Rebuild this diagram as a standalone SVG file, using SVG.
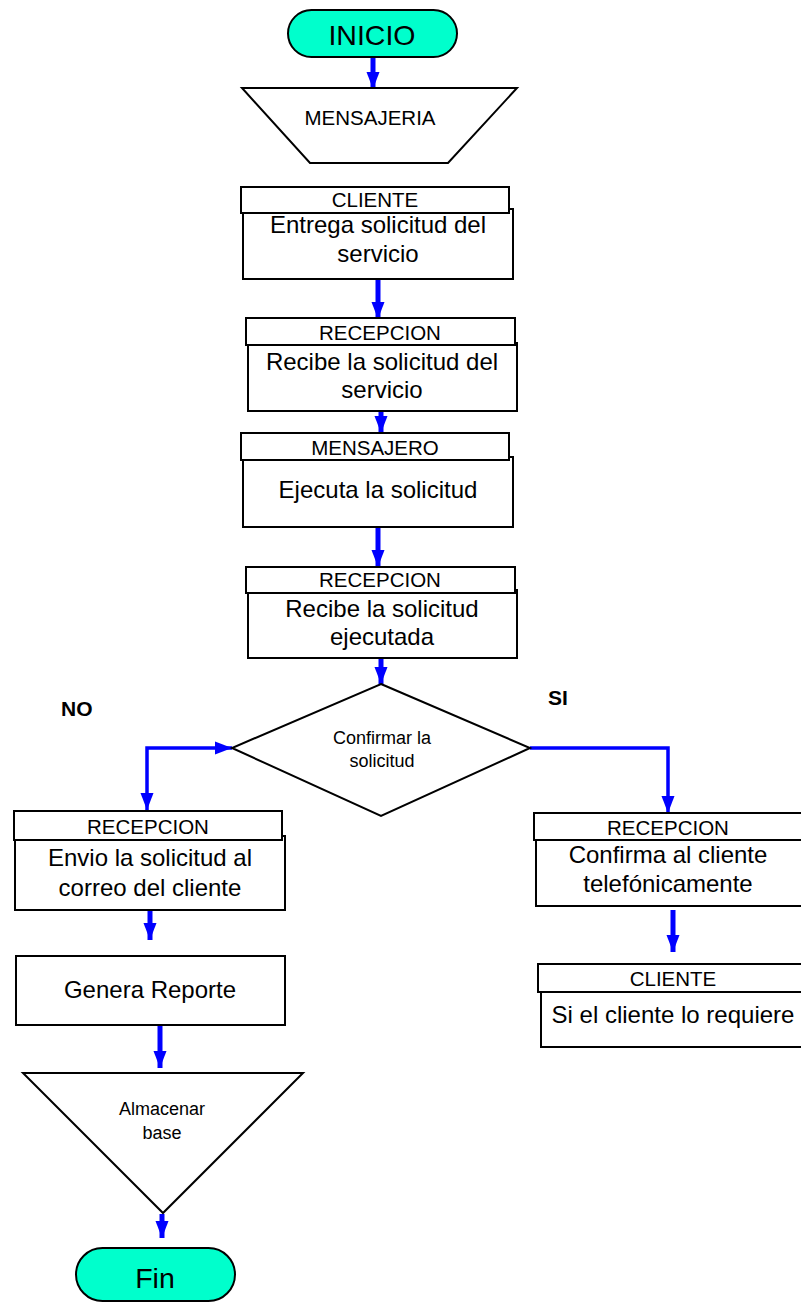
<svg xmlns="http://www.w3.org/2000/svg" width="801" height="1303" viewBox="0 0 801 1303">
<style>
.b{fill:#fff;stroke:#000;stroke-width:2}
.t{fill:#00ffcc;stroke:#000;stroke-width:2}
text{font-family:"Liberation Sans",Arial,sans-serif;fill:#000;text-anchor:middle}
.h{font-size:20.5px}
.m{font-size:24px}
.s{font-size:18px}
.lb{font-size:21px;font-weight:bold;text-anchor:start}
.c{fill:none;stroke:#0000ff;stroke-width:5}
.c2{fill:none;stroke:#0000ff;stroke-width:3.5}
</style>
<defs>
<marker id="ah" markerUnits="userSpaceOnUse" markerWidth="18" markerHeight="14" refX="17" refY="7" orient="auto" viewBox="0 0 18 14">
<path d="M0,0.5 L17,7 L0,13.5 z" fill="#0000ff"/>
</marker>
<marker id="as" markerUnits="userSpaceOnUse" markerWidth="18" markerHeight="14" refX="17" refY="7" orient="auto-start-reverse" viewBox="0 0 18 14">
<path d="M0,0.5 L17,7 L0,13.5 z" fill="#0000ff"/>
</marker>
</defs>
<g id="connectors">
<line class="c" x1="373" y1="57" x2="373" y2="89" marker-end="url(#ah)"/>
<line class="c" x1="378" y1="280" x2="378" y2="319" marker-end="url(#ah)"/>
<line class="c" x1="381" y1="412" x2="381" y2="433" marker-end="url(#ah)"/>
<line class="c" x1="378" y1="528" x2="378" y2="567" marker-end="url(#ah)"/>
<line class="c" x1="381" y1="659" x2="381" y2="684" marker-end="url(#ah)"/>
<polyline class="c2" points="147,810 147,748 232,748" marker-start="url(#as)" marker-end="url(#ah)"/>
<polyline class="c2" points="530,748 668,748 668,813" marker-end="url(#ah)"/>
<line class="c" x1="673" y1="910" x2="673" y2="952" marker-end="url(#ah)"/>
<line class="c" x1="150" y1="898" x2="150" y2="940" marker-end="url(#ah)"/>
<line class="c" x1="160" y1="1026" x2="160" y2="1068" marker-end="url(#ah)"/>
<line class="c" x1="162" y1="1214" x2="162" y2="1238" marker-end="url(#ah)"/>
</g>
<g id="inicio">
<rect class="t" x="288" y="10" width="169" height="47" rx="23.5"/>
<text x="372" y="45" style="font-size:28.5px">INICIO</text>
</g>
<g id="mensajeria">
<polygon class="b" points="242,88 517,88 448,163 310,163"/>
<text x="370" y="125" class="h">MENSAJERIA</text>
</g>
<g id="cliente1">
<rect class="b" x="243" y="209" width="270" height="70"/>
<rect class="b" x="241" y="187" width="268" height="26"/>
<text x="375" y="207" class="h">CLIENTE</text>
<text x="378" y="233" class="m">Entrega solicitud del</text>
<text x="378" y="262" class="m">servicio</text>
</g>
<g id="recepcion1">
<rect class="b" x="248" y="343" width="269" height="68"/>
<rect class="b" x="246" y="318" width="269" height="27"/>
<text x="380" y="340" class="h">RECEPCION</text>
<text x="382" y="370" class="m">Recibe la solicitud del</text>
<text x="382" y="398" class="m">servicio</text>
</g>
<g id="mensajero">
<rect class="b" x="243" y="457" width="270" height="70"/>
<rect class="b" x="241" y="433" width="268" height="27"/>
<text x="375" y="455" class="h">MENSAJERO</text>
<text x="378" y="498" class="m">Ejecuta la solicitud</text>
</g>
<g id="recepcion2">
<rect class="b" x="248" y="590" width="269" height="68"/>
<rect class="b" x="246" y="567" width="269" height="26"/>
<text x="380" y="587" class="h">RECEPCION</text>
<text x="382" y="617" class="m">Recibe la solicitud</text>
<text x="382" y="645" class="m">ejecutada</text>
</g>
<g id="decision">
<polygon class="b" points="381,684 530,748 381,816 232,748"/>
<text x="382" y="744" class="s">Confirmar la</text>
<text x="382" y="767" class="s">solicitud</text>
</g>
<g id="labels">
<text x="61" y="716" class="lb">NO</text>
<text x="548" y="705" class="lb">SI</text>
</g>
<g id="recepcion3">
<rect class="b" x="15" y="836" width="270" height="74"/>
<rect class="b" x="14" y="811" width="268" height="29"/>
<text x="148" y="834" class="h">RECEPCION</text>
<text x="150" y="866" class="m">Envio la solicitud al</text>
<text x="150" y="896" class="m">correo del cliente</text>
</g>
<g id="recepcion4">
<rect class="b" x="536" y="838" width="270" height="68"/>
<rect class="b" x="534" y="813" width="272" height="27"/>
<text x="668" y="835" class="h">RECEPCION</text>
<text x="668" y="863" class="m">Confirma al cliente</text>
<text x="668" y="892" class="m">telefónicamente</text>
</g>
<g id="cliente2">
<rect class="b" x="541" y="990" width="265" height="57"/>
<rect class="b" x="538" y="964" width="268" height="28"/>
<text x="673" y="986" class="h">CLIENTE</text>
<text x="673" y="1023" class="m">Si el cliente lo requiere</text>
</g>
<g id="reporte">
<rect class="b" x="16" y="956" width="269" height="69"/>
<text x="150" y="998" class="m">Genera Reporte</text>
</g>
<g id="almacenar">
<polygon class="b" points="23,1073 303,1073 163,1213"/>
<text x="162" y="1115" style="font-size:18px">Almacenar</text>
<text x="162" y="1139" style="font-size:18px">base</text>
</g>
<g id="fin">
<rect class="t" x="76" y="1248" width="159" height="53" rx="26.5"/>
<text x="155" y="1288" style="font-size:28.5px">Fin</text>
</g>
</svg>
